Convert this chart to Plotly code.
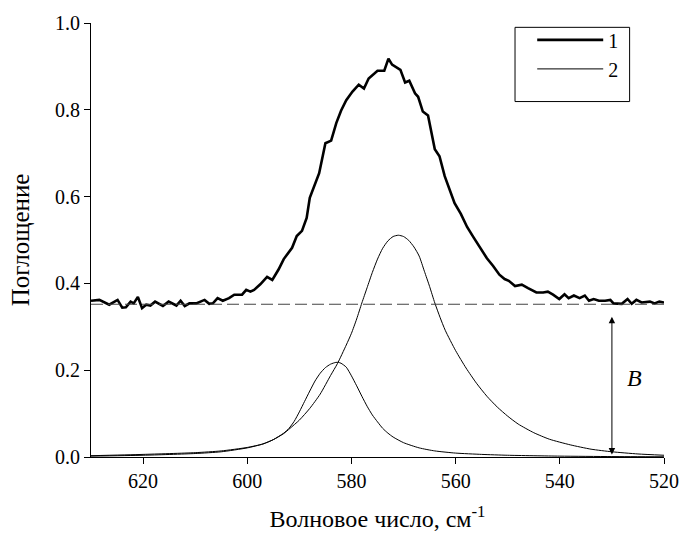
import plotly.graph_objects as go

# ---- data ----
# curve 1: measured spectrum (wavenumber, absorbance)
wn_1 = [630.0, 628.4, 626.5, 624.9, 624.0, 623.3, 622.4, 621.8, 621.0, 620.2,
        619.4, 618.6, 617.7, 616.2, 615.1, 614.3, 613.6, 612.8, 612.0, 611.1,
        609.8, 608.2, 607.3, 606.6, 605.7, 604.7, 603.5, 602.5, 601.0, 600.2,
        599.4, 598.7, 597.5, 596.2, 595.2, 594.0, 593.0, 591.4, 590.5, 589.5,
        588.6, 588.0, 587.0, 586.2, 585.0, 583.9, 582.9, 582.0, 581.0, 579.8,
        578.6, 577.6, 576.7, 575.0, 573.7, 572.9, 572.2, 570.6, 569.7, 568.9,
        567.8, 567.2, 566.3, 565.3, 564.0, 563.1, 562.1, 560.8, 560.2, 559.0,
        557.8, 556.5, 555.2, 554.0, 552.8, 551.6, 550.6, 549.8, 548.6, 547.3,
        546.1, 544.5, 543.2, 542.3, 541.3, 540.1, 539.1, 538.3, 537.3, 536.2,
        535.2, 534.4, 533.5, 532.5, 531.3, 530.3, 529.7, 528.1, 527.0, 526.2,
        525.3, 524.3, 522.7, 521.8, 520.9, 520.0]
abs_1 = [0.360, 0.362, 0.351, 0.362, 0.344, 0.345, 0.358, 0.354, 0.369, 0.343,
         0.351, 0.349, 0.358, 0.348, 0.358, 0.354, 0.349, 0.360, 0.348, 0.354,
         0.354, 0.362, 0.353, 0.354, 0.366, 0.360, 0.366, 0.374, 0.374, 0.385,
         0.381, 0.385, 0.398, 0.415, 0.408, 0.432, 0.456, 0.482, 0.509, 0.521,
         0.551, 0.597, 0.628, 0.654, 0.723, 0.729, 0.770, 0.798, 0.822, 0.842,
         0.858, 0.849, 0.872, 0.890, 0.890, 0.918, 0.904, 0.892, 0.863, 0.867,
         0.838, 0.830, 0.796, 0.787, 0.709, 0.693, 0.647, 0.601, 0.585, 0.560,
         0.530, 0.505, 0.480, 0.458, 0.440, 0.420, 0.410, 0.406, 0.394, 0.397,
         0.389, 0.379, 0.379, 0.381, 0.374, 0.364, 0.375, 0.366, 0.372, 0.366,
         0.372, 0.360, 0.364, 0.360, 0.360, 0.362, 0.354, 0.353, 0.364, 0.353,
         0.362, 0.356, 0.358, 0.354, 0.358, 0.356]

# curve 2: fitted components (two bands)
wn_2a = [630, 620, 610, 605, 600, 597, 595, 593, 592, 591, 590, 589, 588, 587,
         586, 585, 584, 583, 582.5, 582, 581, 580, 579, 578, 577, 576, 575, 574,
         573, 572, 570, 567, 564, 560, 555, 550, 540, 530, 520]
abs_2a = [0.002, 0.004, 0.008, 0.012, 0.021, 0.030, 0.040, 0.055, 0.066, 0.082,
          0.104, 0.128, 0.152, 0.175, 0.193, 0.206, 0.214, 0.218, 0.218, 0.216,
          0.207, 0.187, 0.164, 0.140, 0.117, 0.097, 0.081, 0.066, 0.055, 0.046,
          0.033, 0.021, 0.014, 0.009, 0.006, 0.004, 0.002, 0.001, 0.0005]

wn_2b = [630, 620, 610, 605, 600, 597, 595, 593, 591.8, 590, 588, 586, 584,
         582.7, 581, 580, 579, 578, 577, 576, 575, 574, 573, 572, 571, 570, 569,
         568, 567, 566, 565, 564, 563, 562, 560, 558, 556, 554, 552, 550, 548,
         545, 542, 538, 534, 530, 525, 520]
abs_2b = [0.003, 0.006, 0.010, 0.014, 0.022, 0.030, 0.040, 0.054, 0.066, 0.085,
          0.112, 0.145, 0.188, 0.215, 0.258, 0.285, 0.318, 0.355, 0.390, 0.425,
          0.456, 0.481, 0.498, 0.508, 0.511, 0.508, 0.499, 0.484, 0.463, 0.428,
          0.393, 0.355, 0.322, 0.292, 0.245, 0.205, 0.170, 0.140, 0.115, 0.094,
          0.076, 0.056, 0.041, 0.028, 0.018, 0.012, 0.007, 0.004]

baseline_B = 0.352
arrow_wn = 530
arrow_bottom = 0.006
x_ticks = [620, 600, 580, 560, 540, 520]
y_ticks = [0.0, 0.2, 0.4, 0.6, 0.8, 1.0]

FONT = "Liberation Serif, Times New Roman, serif"

fig = go.Figure()
fig.add_trace(go.Scatter(x=wn_1, y=abs_1, mode="lines", name="1",
                         line=dict(color="black", width=2.6)))
fig.add_trace(go.Scatter(x=wn_2a, y=abs_2a, mode="lines", name="2",
                         line=dict(color="black", width=1, shape="spline", smoothing=0.6)))
fig.add_trace(go.Scatter(x=wn_2b, y=abs_2b, mode="lines", name="2b", showlegend=False,
                         line=dict(color="black", width=1, shape="spline", smoothing=0.6)))

# dashed baseline
fig.add_shape(type="line", xref="x", yref="y", x0=630, x1=520, y0=baseline_B, y1=baseline_B,
              line=dict(color="#444444", width=1.2, dash="12px,5px"))
# legend box
fig.add_shape(type="rect", xref="paper", yref="paper", x0=0.740, x1=0.940, y0=0.819, y1=0.990,
              line=dict(color="black", width=1), fillcolor="rgba(0,0,0,0)")

# double arrow for B
fig.add_annotation(x=arrow_wn, y=arrow_bottom, ax=arrow_wn, ay=baseline_B, xref="x", yref="y",
                   axref="x", ayref="y", text=" ", showarrow=True, arrowhead=2,
                   startarrowhead=2, arrowside="end+start", arrowsize=1.3, arrowwidth=1,
                   arrowcolor="black")
fig.add_annotation(x=525.6, y=0.181, xref="x", yref="y", text="<i>B</i>", showarrow=False,
                   font=dict(family=FONT, size=24, color="black"))

fig.update_layout(
    width=691, height=541,
    margin=dict(l=91, r=18, t=21, b=84),
    plot_bgcolor="white", paper_bgcolor="white",
    font=dict(family=FONT, size=20, color="black"),
    showlegend=True,
    legend=dict(x=0.770, y=1.006, xanchor="left", yanchor="top",
                bgcolor="rgba(0,0,0,0)", borderwidth=0,
                font=dict(family=FONT, size=20, color="black"),
                itemwidth=66, tracegroupgap=0),
)
fig.update_xaxes(range=[630, 520], tickvals=x_ticks, ticks="outside", ticklen=6,
                 tickcolor="black", showline=True, linecolor="black", linewidth=1,
                 showgrid=False, zeroline=False,
                 tickfont=dict(family=FONT, size=20),
                 title=dict(text="Волновое число, см<sup>-1</sup>", standoff=19,
                            font=dict(family=FONT, size=24)))
fig.update_yaxes(range=[0, 1], tickvals=y_ticks, tickformat=".1f", ticks="outside", ticklen=6,
                 tickcolor="black", showline=True, linecolor="black", linewidth=1,
                 showgrid=False, zeroline=False,
                 tickfont=dict(family=FONT, size=20),
                 title=dict(text="Поглощение", standoff=18,
                            font=dict(family=FONT, size=25)))

fig.write_html("out.html")
